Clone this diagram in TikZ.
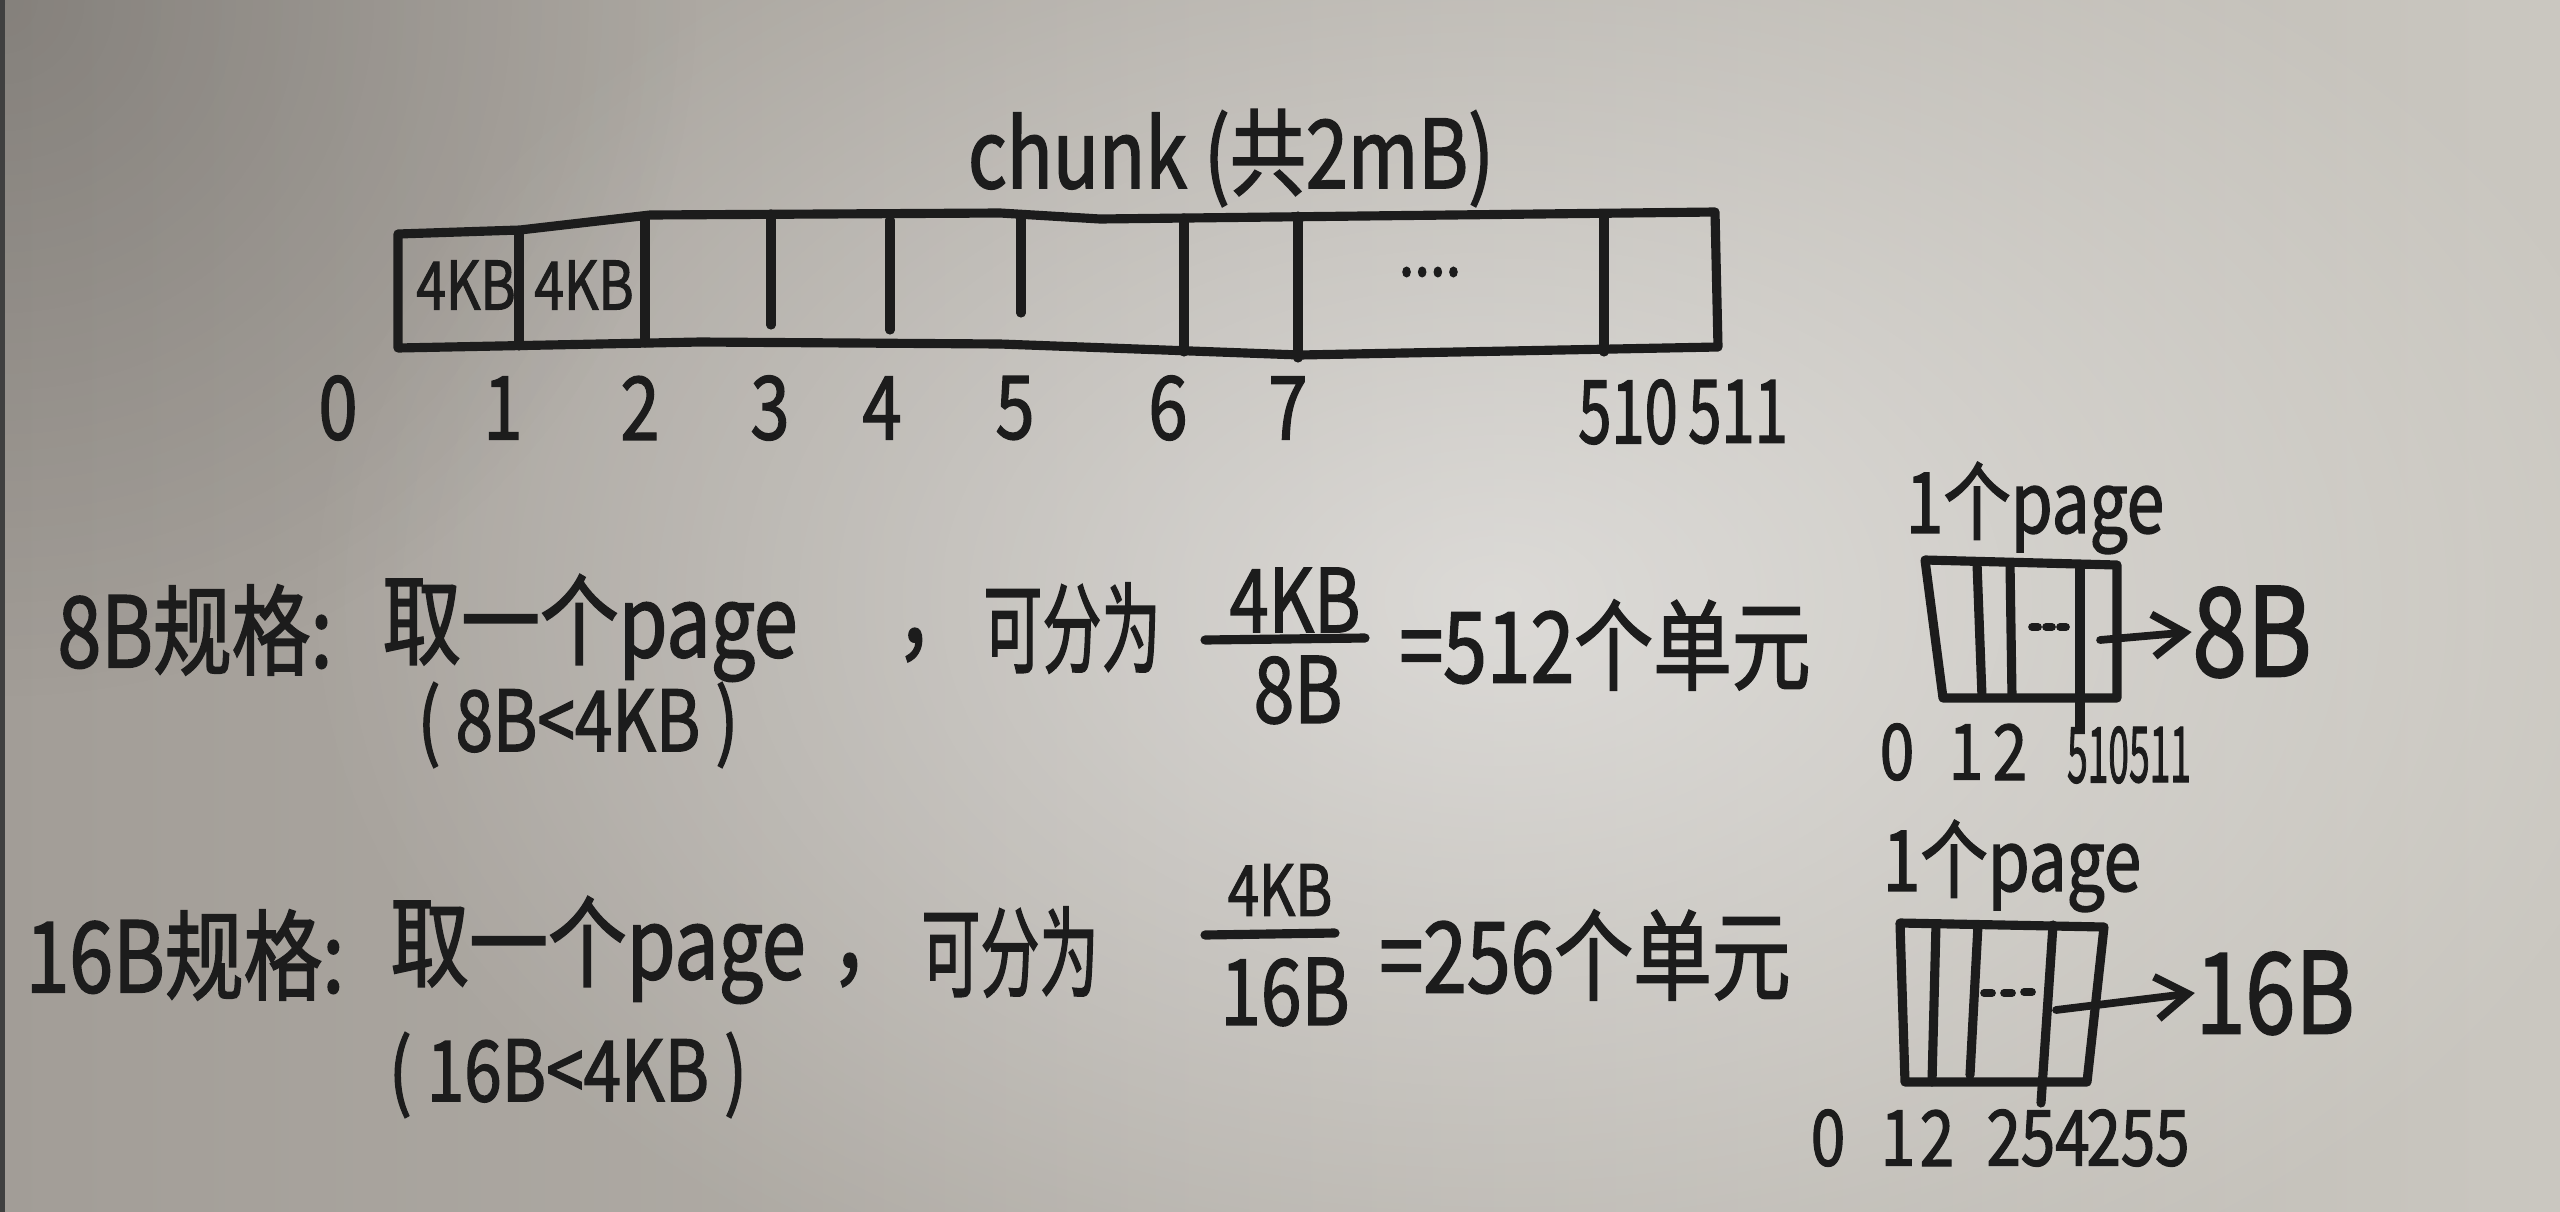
\documentclass[tikz,border=0pt]{standalone}
\usepackage{fontspec}
\usetikzlibrary{arrows.meta,fadings}
\newfontfamily\hw{Noto Sans CJK SC}[FakeBold=1.6,FakeStretch=0.8]
\definecolor{ink}{RGB}{28,28,28}
\definecolor{bgL}{RGB}{162,157,151}
\definecolor{bgR}{RGB}{202,199,192}
\tikzfading[name=vig, inner color=transparent!0, outer color=transparent!100]
\begin{document}
\begin{tikzpicture}[x=0.01cm,y=-0.01cm,
  hw/.style={font=\hw\fontsize{#1pt}{#1pt}\selectfont, text=ink, inner sep=0pt, anchor=center},
  pen/.style={draw=ink, line width=2.6pt, line cap=round, line join=round},
  dpen/.style={draw=ink, line width=2.2pt, line cap=round},
  arr/.style={draw=ink, line width=2.2pt, line cap=round, -{Straight Barb[length=9pt,width=12pt,line width=2.2pt]}}]
\useasboundingbox (0,0) rectangle (2560,1212);
% paper background
\shade[left color=bgL, right color=bgR] (0,0) rectangle (2560,1212);
\fill[white, path fading=vig, opacity=0.5] (300,-200) rectangle (2700,1400);
\fill[black, path fading=vig, opacity=0.18] (-700,-700) rectangle (700,700);
\fill[black!75] (0,0) rectangle (5,1212);

% ---------- chunk ----------
\node[hw=27] (title) at (1231,158) {chunk (共2mB)};
\draw[pen] (398,234) -- (520,230) -- (650,215) -- (1000,213) -- (1100,219) -- (1715,212) -- (1718,347)
  -- (1300,355) -- (1000,344) -- (700,342) -- (398,348) -- cycle;
\draw[pen] (519,231) -- (519,346);
\draw[pen] (645,216) -- (645,343);
\draw[pen] (771,214) -- (771,325);
\draw[pen] (890,220) -- (890,330);
\draw[pen] (1021,218) -- (1021,313);
\draw[pen] (1184,218) -- (1184,352);
\draw[pen] (1298,216) -- (1298,358);
\draw[pen] (1604,214) -- (1604,352);
\node[hw=19] (k1) at (466,285) {4KB};
\node[hw=19] (k2) at (584,285) {4KB};
\node[hw=20] (cdots) at (1430,272) {....};
\foreach \n/\x in {0/338,1/503,2/640,3/770,4/882,5/1015,6/1168,7/1288}
  \node[hw=25] (c\n) at (\x,408) {\n};
\node[hw=25] (c510) at (1628,412) {\scalebox{0.85}[1]{510}};
\node[hw=25] (c511) at (1738,412) {\scalebox{0.85}[1]{511}};

% ---------- 8B row ----------
\node[hw=28] (r8a) at (195,630) {8B规格:};
\node[hw=28] (r8b) at (590,628) {取一个page};
\node[hw=28] (r8c) at (935,645) {，};
\node[hw=24] (r8d) at (578,725) {( 8B<4KB )};
\node[hw=28] (r8e) at (1072,628) {\scalebox{0.75}[1]{可分为}};
\node[hw=25] (r8n) at (1295,600) {4KB};
\draw[pen] (1205,640) -- (1365,638);
\node[hw=26] (r8dn) at (1298,690) {8B};
\node[hw=28] (r8f) at (1605,645) {=512个单元};

% ---------- 16B row ----------
\node[hw=28] (r16a) at (185,955) {16B规格:};
\node[hw=28] (r16b) at (598,950) {取一个page};
\node[hw=28] (r16c) at (870,970) {，};
\node[hw=24] (r16d) at (568,1075) {( 16B<4KB )};
\node[hw=28] (r16e) at (1010,952) {\scalebox{0.75}[1]{可分为}};
\node[hw=20] (r16n) at (1280,890) {4KB};
\draw[pen] (1205,935) -- (1335,933);
\node[hw=26] (r16dn) at (1285,992) {16B};
\node[hw=28] (r16f) at (1585,955) {=256个单元};

% ---------- page for 8B ----------
\node[hw=24] (p8t) at (2035,508) {1个page};
\draw[pen] (1925,560) -- (2117,565) -- (2117,698) -- (1943,698) -- cycle;
\draw[pen] (1977,563) -- (1982,697);
\draw[pen] (2010,563) -- (2012,697);
\draw[pen] (2080,565) -- (2080,727);
\draw[dpen] (2032,627) -- (2038,627) (2046,627) -- (2052,627) (2060,627) -- (2066,627);
\coordinate (a8) at (2100,640);
\node[hw=35] (b8) at (2252,632) {8B};
\draw[arr] (a8) -- (b8.west);
\foreach \n/\x in {0/1897,1/1966,2/2010}
  \node[hw=22] (p8\n) at (\x,752) {\n};
\node[hw=22] (p8510) at (2098,755) {\scalebox{0.6}[1]{510}};
\node[hw=22] (p8511) at (2160,755) {\scalebox{0.6}[1]{511}};

% ---------- page for 16B ----------
\node[hw=24] (p16t) at (2012,866) {1个page};
\draw[pen] (1900,923) -- (2104,927) -- (2087,1082) -- (1905,1082) -- cycle;
\draw[pen] (1936,924) -- (1932,1082);
\draw[pen] (1978,925) -- (1970,1075);
\draw[pen] (2053,925) -- (2041,1103);
\draw[dpen] (1984,993) -- (1992,993) (2004,993) -- (2012,993) (2024,992) -- (2032,992);
\coordinate (a16) at (2056,1010);
\node[hw=32] (b16) at (2275,993) {16B};
\draw[arr] (a16) -- (b16.west);
\foreach \n/\x in {0/1828,1/1898,2/1937,254/2038,255/2138}
  \node[hw=22] (p16\n) at (\x,1138) {\n};
\end{tikzpicture}
\end{document}
